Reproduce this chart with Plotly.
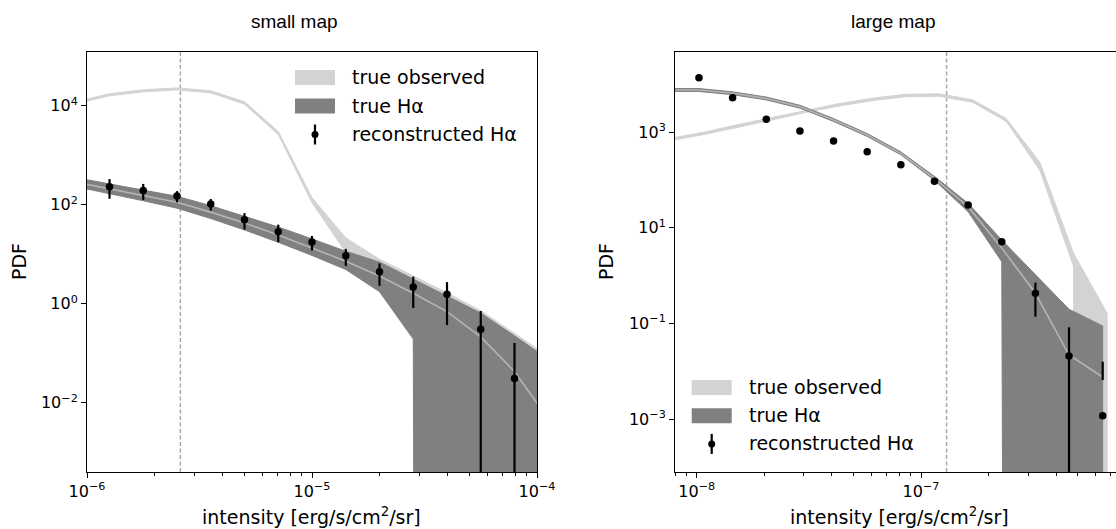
import numpy as np
import plotly.graph_objects as go

# ---------------- small map ----------------
small_band_x = [8.913e-7, 1.259e-6, 1.778e-6, 2.512e-6, 3.548e-6, 5.012e-6, 7.079e-6,
                1.000e-5, 1.413e-5, 1.995e-5, 2.818e-5, 3.981e-5, 5.623e-5, 7.943e-5, 1.122e-4]
small_obs_hi = [12020, 17380, 20890, 22910, 19950, 12020, 3020, 138, 21.4, 7.94, 3.63, 1.66, 0.724, 0.251, 0.0871]
small_obs_lo = [10960, 15850, 19050, 20890, 18200, 10720, 2630, 110, 10.9, 6.31, 2.88, 1.32, 0.575, 0.200, 0.0692]
small_ha_hi = [350.8, 263, 199.5, 147.9, 95.5, 58.9, 35.5, 20.4, 11.5, 6.92, 3.16, 1.43, 0.646, 0.224, 0.0759]
small_ha_lo = [231.7, 166, 120.2, 85.1, 52.5, 30.9, 17.4, 9.44, 4.90, 1.75, 0.194, 0, 0, 0, 0]
small_ha_mid = [285, 209, 155, 112, 70.8, 42.7, 24.5, 13.5, 7.24, 3.63, 1.62, 0.692, 0.214, 0.0427, 0.00468]
small_rec_x = [1.259e-6, 1.778e-6, 2.512e-6, 3.548e-6, 5.012e-6, 7.079e-6, 1.000e-5,
               1.413e-5, 1.995e-5, 2.818e-5, 3.981e-5, 5.623e-5, 7.943e-5]
small_rec_y = [231, 194, 150, 103, 49.5, 28.5, 17.6, 9.3, 4.4, 2.17, 1.55, 0.304, 0.031]
small_rec_err_hi = [99, 69, 38, 27, 18, 11, 5.7, 3.5, 2.1, 1.35, 1.18, 0.41, 0.13]
small_rec_err_lo = [99, 69, 38, 27, 18, 11, 5.7, 3.5, 2.1, 1.35, 1.18, 0.41, 0.13]
small_threshold = 2.6e-6

# ---------------- large map ----------------
large_obs_x = [7.586e-9, 1.072e-8, 1.514e-8, 2.138e-8, 3.020e-8, 4.266e-8, 6.026e-8,
               8.511e-8, 1.202e-7, 1.698e-7, 2.399e-7, 3.388e-7, 4.786e-7, 6.761e-7]
large_obs_hi = [738.0, 986.3, 1413, 1972, 2838, 3882, 5047, 6124, 6266, 4699, 1905, 234.4, 2.938, 0.164]
large_obs_lo = [657.7, 879.0, 1259, 1758, 2529, 3459, 4498, 5458, 5585, 4188, 1660, 158.5, 1.58, 0]
large_ha_x = [7.244e-9, 1.023e-8, 1.445e-8, 2.042e-8, 2.884e-8, 4.074e-8, 5.754e-8,
              8.128e-8, 1.148e-7, 1.622e-7, 2.291e-7, 3.236e-7, 4.571e-7, 6.457e-7]
large_ha_hi = [8072, 8072, 6887, 5370, 3614, 1905, 926.8, 384.6, 118.3, 32.4, 5.56, 1.059, 0.1995, 0.0891]
large_ha_lo = [7031, 7031, 5998, 4677, 3148, 1660, 807.2, 335, 98.4, 21.7, 1.96, 0, 0, 0]
large_ha_mid = [7534, 7534, 6427, 5012, 3373, 1778, 865, 359, 108, 27.5, 3.78, 0.43, 0.0221, 0.00767]
large_rec_x = [1.023e-8, 1.445e-8, 2.042e-8, 2.884e-8, 4.074e-8, 5.754e-8, 8.128e-8,
               1.148e-7, 1.622e-7, 2.291e-7, 3.236e-7, 4.571e-7, 6.457e-7]
large_rec_y = [13600, 5200, 1840, 1047, 649, 388, 207, 93.5, 29.9, 5.13, 0.429, 0.0211, 0.00119]
large_rec_err_hi = [300, 120, 40, 25, 15, 9, 5, 2.5, 1.2, 0.35, 0.29, 0.063, 0.0148]
large_rec_err_lo = [300, 120, 40, 25, 15, 9, 5, 2.5, 1.2, 0.35, 0.29, 0.063, -0.00546]
large_threshold = 1.30e-7

LIGHT = "#d3d3d3"
DARK = "#808080"
MID = "#b4b4b4"
FONT = "DejaVu Sans"
W, H = 1116, 529
LOG_FLOOR = 1e-200  # empty bins are pushed far below the axis on a log scale


def band(x, lo, hi, color, xa, ya):
    lo = np.clip(np.asarray(lo, dtype=float), LOG_FLOOR, None)
    xs = list(x) + list(x)[::-1]
    ys = list(hi) + list(lo)[::-1]
    return go.Scatter(x=xs, y=ys, mode="lines", fill="toself", fillcolor=color,
                      line=dict(color=color, width=1), hoverinfo="skip",
                      showlegend=False, xaxis=xa, yaxis=ya)


def points(x, y, ehi, elo, xa, ya):
    return go.Scatter(x=x, y=y, mode="markers",
                      marker=dict(color="black", size=7.5),
                      error_y=dict(type="data", array=ehi, arrayminus=elo,
                                   color="black", thickness=2.2, width=0),
                      showlegend=False, xaxis=xa, yaxis=ya)


fig = go.Figure()
# small map panel
fig.add_trace(band(small_band_x, small_obs_lo, small_obs_hi, LIGHT, "x", "y"))
fig.add_trace(band(small_band_x, small_ha_lo, small_ha_hi, DARK, "x", "y"))
fig.add_trace(go.Scatter(x=small_band_x, y=small_ha_mid, mode="lines",
                         line=dict(color=MID, width=1.6), showlegend=False,
                         xaxis="x", yaxis="y"))
fig.add_trace(points(small_rec_x, small_rec_y, small_rec_err_hi, small_rec_err_lo, "x", "y"))
# large map panel
fig.add_trace(band(large_obs_x, large_obs_lo, large_obs_hi, LIGHT, "x2", "y2"))
fig.add_trace(band(large_ha_x, large_ha_lo, large_ha_hi, DARK, "x2", "y2"))
fig.add_trace(go.Scatter(x=large_ha_x, y=large_ha_mid, mode="lines",
                         line=dict(color=MID, width=1.6), showlegend=False,
                         xaxis="x2", yaxis="y2"))
fig.add_trace(points(large_rec_x, large_rec_y, large_rec_err_hi, large_rec_err_lo, "x2", "y2"))


def sup(e):
    return "10<sup>" + str(e).replace("-", "\u2212") + "</sup>"


def minor_vals(e0, e1):
    return [m * 10.0 ** e for e in range(e0, e1) for m in range(2, 10)]


tickfont = dict(family=FONT, size=16, color="black")
axis_common = dict(type="log", showline=True, linecolor="black", linewidth=1,
                   ticks="outside", ticklen=5, tickwidth=1, tickcolor="black",
                   showgrid=False, zeroline=False, tickfont=tickfont, automargin=False)

ydom = [(H - 472) / H, (H - 52) / H]

fig.update_layout(
    width=W, height=H, margin=dict(l=0, r=0, t=0, b=0, pad=0, autoexpand=False),
    paper_bgcolor="white", plot_bgcolor="white", showlegend=False,
    xaxis=dict(axis_common, domain=[87 / W, 537 / W], range=[-6, -4], anchor="y", mirror=True,
               tickvals=[1e-6, 1e-5, 1e-4], ticktext=[sup(-6), sup(-5), sup(-4)],
               minor=dict(ticks="outside", ticklen=3, tickwidth=1, tickcolor="black",
                          tickvals=minor_vals(-6, -4), showgrid=False)),
    yaxis=dict(axis_common, domain=ydom, range=[-3.4, 5.085], anchor="x", mirror=True,
               tickvals=[1e-2, 1e0, 1e2, 1e4], ticktext=[sup(-2), sup(0), sup(2), sup(4)]),
    xaxis2=dict(axis_common, domain=[675 / W, 1.0], range=[-8.097, -6.1306], anchor="y2", mirror=True,
                tickvals=[1e-8, 1e-7], ticktext=[sup(-8), sup(-7)],
                minor=dict(ticks="outside", ticklen=3, tickwidth=1, tickcolor="black",
                           tickvals=minor_vals(-9, -6), showgrid=False)),
    yaxis2=dict(axis_common, domain=ydom, range=[-4.098, 4.670], anchor="x2", mirror=False,
                tickvals=[1e-3, 1e-1, 1e1, 1e3], ticktext=[sup(-3), sup(-1), sup(1), sup(3)]),
)

# detection thresholds
for xv, xr, yr in [(small_threshold, "x", "y domain"), (large_threshold, "x2", "y2 domain")]:
    fig.add_shape(type="line", xref=xr, yref=yr, x0=xv, x1=xv, y0=0, y1=1,
                  line=dict(color="#a8a8a8", width=1.5, dash="4px,2.5px"), layer="below")


def px(x):
    return x / W


def py(y):
    return 1 - y / H


annotations = []


def text(x, y, s, size=19, xanchor="center", family=FONT, angle=0):
    annotations.append(dict(x=px(x), y=py(y), xref="paper", yref="paper", text=s,
                            showarrow=False, xanchor=xanchor, yanchor="middle",
                            textangle=angle, font=dict(family=family, size=size, color="black")))


# panel titles
text(294, 21, "small map", size=19, family="Liberation Sans")
text(893, 21, "large map", size=19, family="Liberation Sans")
# axis titles
xlabel = "intensity [erg/s/cm<sup>2</sup>/sr]"
text(312, 516, xlabel)
text(899, 516, xlabel)
text(19, 262, "PDF", angle=-90)
text(606, 262, "PDF", angle=-90)


def legend(x0, y0, dy):
    # two filled patches plus an error-bar glyph, with labels to the right
    for i, col in enumerate([LIGHT, DARK]):
        yc = y0 + i * dy
        fig.add_shape(type="rect", xref="paper", yref="paper",
                      x0=px(x0), x1=px(x0 + 40), y0=py(yc - 7.5), y1=py(yc + 7.5),
                      fillcolor=col, line=dict(width=0))
    yc = y0 + 2 * dy
    xc = x0 + 20
    fig.add_shape(type="line", xref="paper", yref="paper", x0=px(xc), x1=px(xc),
                  y0=py(yc - 10), y1=py(yc + 10), line=dict(color="black", width=2.2))
    fig.add_shape(type="circle", xref="paper", yref="paper", x0=px(xc - 3.5), x1=px(xc + 3.5),
                  y0=py(yc - 3.5), y1=py(yc + 3.5), fillcolor="black", line=dict(width=0))
    for i, lab in enumerate(["true observed", "true H\u03b1", "reconstructed H\u03b1"]):
        text(x0 + 55, y0 + i * dy - 0.5, lab, xanchor="left")


legend(295, 77.5, 28.5)
legend(691.7, 387.5, 28.2)

fig.update_layout(annotations=annotations)
fig.write_html("out.html")
